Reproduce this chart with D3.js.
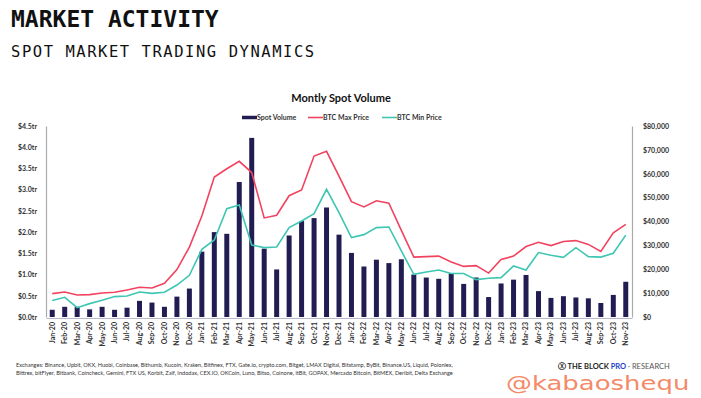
<!DOCTYPE html>
<html>
<head>
<meta charset="utf-8">
<script src="https://cdn.jsdelivr.net/npm/d3@7"></script>
<style>
  body { margin: 0; background: #fff; }
  svg text { font-family: Lato, "Open Sans", sans-serif; }
</style>
</head>
<body>
<div id="chart"></div>
<script>
// months Jan-20 .. Nov-23
const months = ["Jan-20","Feb-20","Mar-20","Apr-20","May-20","Jun-20","Jul-20","Aug-20","Sep-20","Oct-20","Nov-20","Dec-20",
  "Jan-21","Feb-21","Mar-21","Apr-21","May-21","Jun-21","Jul-21","Aug-21","Sep-21","Oct-21","Nov-21","Dec-21",
  "Jan-22","Feb-22","Mar-22","Apr-22","May-22","Jun-22","Jul-22","Aug-22","Sep-22","Oct-22","Nov-22","Dec-22",
  "Jan-23","Feb-23","Mar-23","Apr-23","May-23","Jun-23","Jul-23","Aug-23","Sep-23","Oct-23","Nov-23"];

// spot volume, $ trillions
const spotVolume = [0.17,0.24,0.24,0.18,0.24,0.17,0.22,0.38,0.34,0.24,0.48,0.67,
  1.54,2.0,1.96,3.18,4.22,1.61,1.12,1.92,2.26,2.33,2.58,1.94,
  1.51,1.19,1.35,1.27,1.36,1.0,0.93,0.90,1.03,0.78,0.93,0.47,
  0.79,0.88,0.99,0.61,0.45,0.49,0.46,0.44,0.33,0.52,0.83];

// BTC monthly max / min, $
const btcMax = [9800,10470,9200,9380,10050,10340,11300,12440,12150,14100,19850,29300,
  42300,58600,62100,65200,60500,41500,42600,50800,53200,67400,69400,59000,
  48300,46100,48700,47700,36300,25100,25300,25500,23000,21200,21500,18400,
  24100,25500,29500,31300,29900,31600,32000,30400,27500,35300,38800];
const btcMin = [6900,8250,3900,5600,7000,8550,8800,10470,9900,10350,13400,17450,
  28350,32250,45400,46900,30150,29050,29300,37450,40200,43300,53500,43700,
  33250,34500,37450,37700,27650,17900,18850,19700,18200,18200,15650,16200,
  16500,21350,19700,27000,25850,25000,29050,25300,25100,26700,34300];

const leftTicks = [0,0.5,1,1.5,2,2.5,3,3.5,4,4.5];
const rightTicks = [0,10000,20000,30000,40000,50000,60000,70000,80000];

const exchangesLine1 = "Exchanges: Binance, Upbit, OKX, Huobi, Coinbase, Bithumb, Kucoin, Kraken, Bitfinex, FTX, Gate.io, crypto.com, Bitget, LMAX Digital, Bitstamp, ByBit, Binance.US, Liquid, Poloniex,";
const exchangesLine2 = "Bittrex, bitFlyer, Bitbank, Coincheck, Gemini, FTX US, Korbit, Zaif, Indodax, CEX.IO, OKCoin, Luno, Bitso, Coinone, itBit, GOPAX, Mercado Bitcoin, BitMEX, Deribit, Delta Exchange";

const width = 701, height = 398;
const navy = "#211c52", red = "#f1435f", teal = "#3ec6b3";

const svg = d3.select("#chart").append("svg")
  .attr("width", width)
  .attr("height", height);

// page headings
svg.append("text").attr("x", 11).attr("y", 27)
  .style("font-family", "'DejaVu Sans Mono', monospace")
  .style("font-weight", "bold").style("font-size", "23px").attr("fill", "#111")
  .text("MARKET ACTIVITY");
svg.append("text").attr("x", 11).attr("y", 57)
  .style("font-family", "'DejaVu Sans Mono', monospace")
  .style("font-size", "15.5px").style("letter-spacing", "1.55px").attr("fill", "#111")
  .text("SPOT MARKET TRADING DYNAMICS");

const x = d3.scaleBand()
  .domain(months)
  .range([46, 632])
  .paddingInner(0.6)
  .paddingOuter(0.3);

const yL = d3.scaleLinear().domain([0, 4.5]).range([317, 126]);
const yR = d3.scaleLinear().domain([0, 80000]).range([317, 126]);

// chart title + legend
svg.append("text").attr("x", 341).attr("y", 102).attr("text-anchor", "middle")
  .style("font-weight", "bold").style("font-size", "11px").attr("fill", "#111")
  .text("Montly Spot Volume");

const legend = [
  {label: "Spot Volume", color: navy, x: 242, w: 3.5},
  {label: "BTC Max Price", color: red, x: 308, w: 1.6},
  {label: "BTC Min Price", color: teal, x: 382, w: 1.6}
];
const lg = svg.append("g").selectAll("g").data(legend).enter().append("g");
lg.append("line")
  .attr("x1", d => d.x).attr("x2", d => d.x + 15)
  .attr("y1", 117.5).attr("y2", 117.5)
  .attr("stroke", d => d.color).attr("stroke-width", d => d.w);
lg.append("text")
  .attr("x", d => d.x + 15).attr("y", 120)
  .style("font-size", "7px").style("font-weight", "bold").attr("fill", "#333")
  .text(d => d.label);

// bars
svg.append("g").selectAll("rect")
  .data(spotVolume)
  .enter().append("rect")
  .attr("x", (d, i) => x(months[i]))
  .attr("y", d => yL(d))
  .attr("width", x.bandwidth())
  .attr("height", d => yL(0) - yL(d))
  .attr("fill", navy);

// price lines
const line = d3.line()
  .x((d, i) => x(months[i]) + x.bandwidth() / 2)
  .y(d => yR(d));

svg.append("path").datum(btcMax)
  .attr("d", line).attr("fill", "none")
  .attr("stroke", red).attr("stroke-width", 1.6);
svg.append("path").datum(btcMin)
  .attr("d", line).attr("fill", "none")
  .attr("stroke", teal).attr("stroke-width", 1.6);

// axes
const leftAxis = svg.append("g").attr("transform", "translate(46,0)")
  .call(d3.axisLeft(yL).tickValues(leftTicks).tickSize(0).tickPadding(9)
    .tickFormat(d => "$" + d.toFixed(1) + "tr"));
const rightAxis = svg.append("g").attr("transform", "translate(632,0)")
  .call(d3.axisRight(yR).tickValues(rightTicks).tickSize(0).tickPadding(11)
    .tickFormat(d => "$" + d3.format(",")(d)));
[leftAxis, rightAxis].forEach(a => {
  a.select(".domain").attr("stroke", "#aaa").attr("stroke-width", 1.2);
  a.selectAll("text").style("font-family", "Lato, sans-serif")
    .style("font-size", "7px").style("font-weight", "bold").attr("fill", "#333");
});

const bottomAxis = svg.append("g").attr("transform", "translate(0,318)")
  .call(d3.axisBottom(x).tickSize(0).tickSizeOuter(0));
bottomAxis.select(".domain").attr("stroke", "#b9b6cc").attr("stroke-width", 1.2);
bottomAxis.selectAll("text")
  .attr("transform", "rotate(-90)")
  .attr("text-anchor", "end")
  .attr("x", -4).attr("y", 0).attr("dy", "0.35em")
  .style("font-family", "Lato, sans-serif")
  .style("font-size", "7px").style("font-weight", "bold").attr("fill", "#333");

// footer
svg.append("text").attr("x", 16).attr("y", 367)
  .style("font-size", "5.6px").attr("fill", "#333").text(exchangesLine1);
svg.append("text").attr("x", 16).attr("y", 375)
  .style("font-size", "5.6px").attr("fill", "#333").text(exchangesLine2);

const brand = svg.append("text").attr("x", 558).attr("y", 369)
  .style("font-size", "7.5px").style("font-weight", "bold").attr("fill", "#222");
brand.append("tspan").text("\u24CD THE BLOCK ");
brand.append("tspan").attr("fill", "#2340c8").text("PRO");
brand.append("tspan").style("font-weight", "normal").attr("fill", "#555").text(" \u00B7 RESEARCH");

// watermark
svg.append("text")
  .attr("transform", "translate(506,390) scale(1.33,1)")
  .style("font-family", "'DejaVu Sans', 'Liberation Sans', sans-serif")
  .style("font-size", "19.5px").attr("fill", "#f48a68")
  .text("@kabaoshequ");
</script>
</body>
</html>
